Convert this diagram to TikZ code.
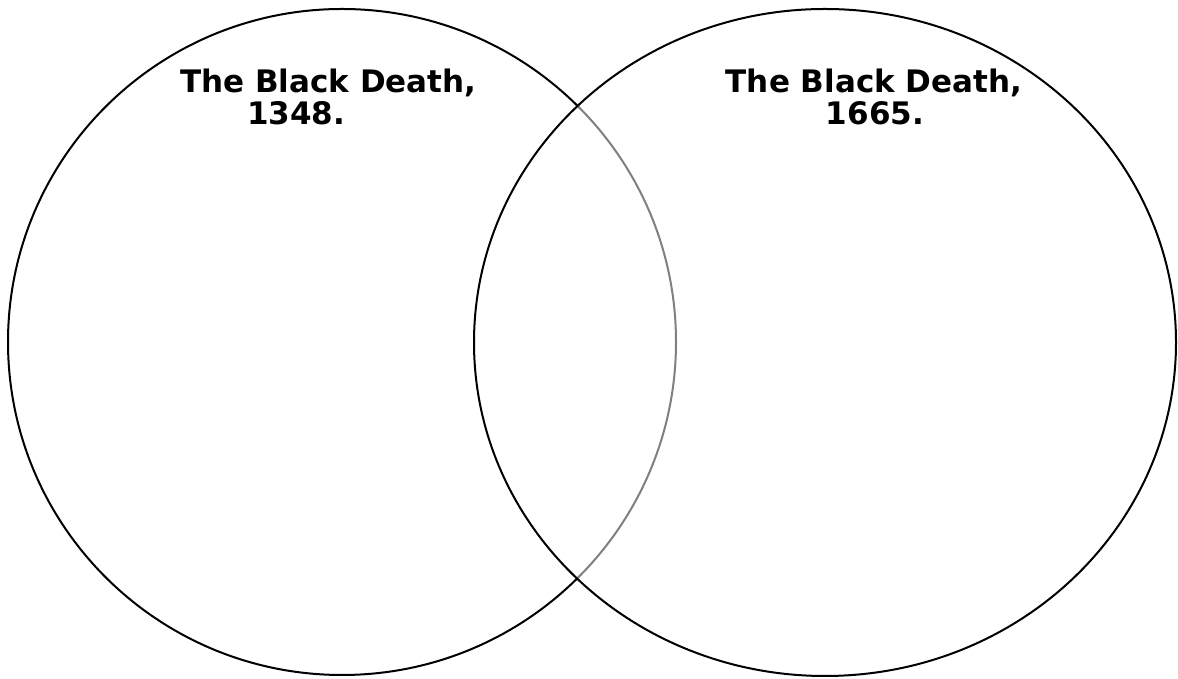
\documentclass[tikz,border=0pt]{standalone}
\usepackage{fontspec}
\setmainfont{DejaVu Sans}
\usetikzlibrary{positioning, shapes.geometric}

\begin{document}
\begin{tikzpicture}[
        x=1pt, y=1pt,
        circ/.style={draw=black, line width=2pt, ellipse, inner sep=0pt},
        title/.style={inner sep=0pt, font=\fontsize{31}{37}\selectfont\bfseries},
      ]
        \useasboundingbox (0,0) rectangle (1178,679);
        % left set
        \node[circ, minimum width=668, minimum height=666] (setA) at (342,337) {};
        % right set, painted over the left one half transparent
        \node[circ, fill=white, fill opacity=0.5, minimum width=702, minimum height=667] (setB) at (825,336.5) {};
        % headings
        \node[title, anchor=base west] (headA) at (180,586) {The Black Death,};
        \node[title, anchor=base west] (yearA) at (247,554) {1348.};
        \node[title, anchor=base] (headB) at (874,586) {The Black Death,};
        \node[title, anchor=base] (yearB) at (875,554) {1665.};
      \end{tikzpicture}
\end{document}
